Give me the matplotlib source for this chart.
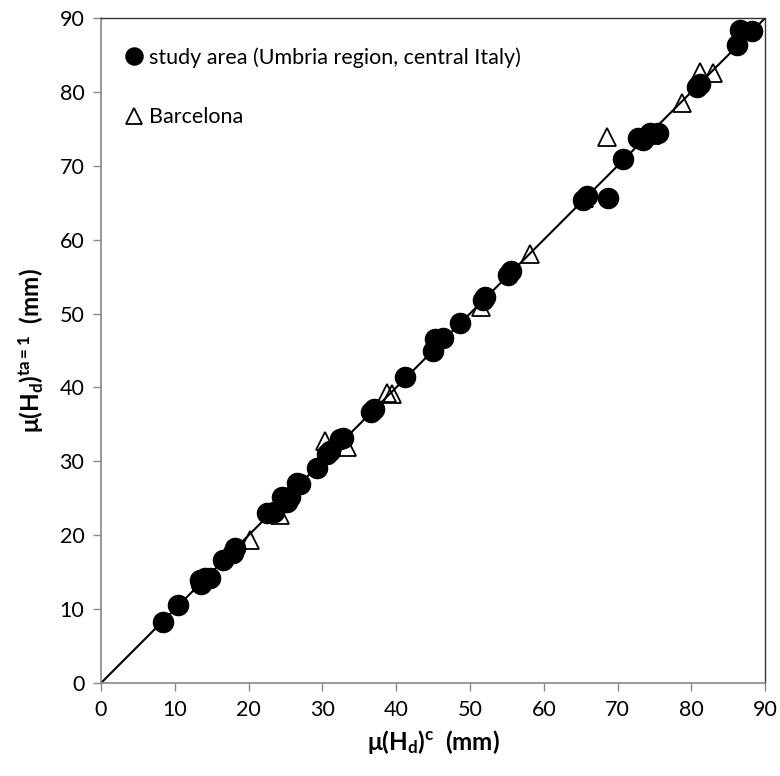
import matplotlib
matplotlib.use("Agg")
import matplotlib.pyplot as plt

plt.rcParams['font.family'] = ['Lato', 'DejaVu Sans']
plt.rcParams['mathtext.fontset'] = 'custom'
plt.rcParams['mathtext.rm'] = 'Lato'
plt.rcParams['mathtext.bf'] = 'Lato:bold'
plt.rcParams['mathtext.it'] = 'Lato:italic'

# study area (Umbria region, central Italy)
umbria_x = [8.4, 10.4, 13.4, 13.6, 14.1, 14.8, 16.5, 17.9, 18.2,
            22.5, 23.4, 24.5, 25.2, 25.6, 26.6, 27.0,
            29.3, 30.6, 31.0, 32.4, 32.8, 36.6, 37.0,
            41.2, 45.0, 45.3, 46.3, 48.7, 51.8, 52.1, 55.1, 55.5,
            65.3, 65.9, 68.7, 70.8, 72.8, 73.5, 74.4, 75.5,
            80.8, 81.1, 86.2, 86.6, 88.2]
umbria_y = [8.3, 10.5, 13.9, 13.4, 14.2, 14.2, 16.6, 17.6, 18.3,
            23.0, 23.2, 25.2, 24.5, 25.2, 27.1, 27.0,
            29.1, 31.0, 31.4, 33.0, 33.2, 36.7, 37.1,
            41.4, 45.0, 46.5, 46.7, 48.7, 51.9, 52.2, 55.2, 55.7,
            65.4, 65.9, 65.6, 70.9, 73.7, 73.5, 74.4, 74.4,
            80.7, 81.1, 86.3, 88.4, 88.2]

# Barcelona
barc_x = [20.2, 24.3, 30.4, 33.3, 38.8, 39.4, 51.5, 58.1, 65.5, 68.6, 74.5, 78.7, 81.2, 82.9]
barc_y = [19.3, 22.8, 32.8, 31.9, 39.3, 39.1, 50.9, 58.0, 65.6, 73.9, 74.2, 78.5, 82.7, 82.6]

xticks = [0, 10, 20, 30, 40, 50, 60, 70, 80, 90]
yticks = [0, 10, 20, 30, 40, 50, 60, 70, 80, 90]

fig = plt.figure(figsize=(7.8, 7.76), dpi=100)
ax = fig.add_axes([0.1295, 0.1198, 0.8515, 0.857])

ax.plot([0, 90], [0, 90], color='black', lw=1.5, zorder=1)
tri, = ax.plot(barc_x, barc_y, linestyle='none', marker='^', markersize=13,
               markerfacecolor='none', markeredgecolor='black', markeredgewidth=1.3, zorder=2)
circ, = ax.plot(umbria_x, umbria_y, linestyle='none', marker='o', markersize=14.5,
                color='black', zorder=3)

ax.set_xlim(0, 90)
ax.set_ylim(0, 90)
ax.set_xticks(xticks)
ax.set_yticks(yticks)
ax.tick_params(axis='both', direction='out', length=6, width=1, color='#888888',
               labelsize=15.5, pad=6)
for s in ['left', 'bottom']:
    ax.spines[s].set_color('#888888')
    ax.spines[s].set_linewidth(1.2)
for s in ['top', 'right']:
    ax.spines[s].set_color('#333333')
    ax.spines[s].set_linewidth(1.0)

ax.set_xlabel(r'$\mathbf{\mu(H_d)^c}$  (mm)', fontsize=17.5, fontweight='bold', labelpad=6)
ax.set_ylabel(r'$\mathbf{\mu(H_d)^{ta{=}1}}$  (mm)', fontsize=17.5, fontweight='bold', labelpad=10)

leg = ax.legend([circ, tri], ['study area (Umbria region, central Italy)', 'Barcelona'],
                loc='upper left', bbox_to_anchor=(0.014, 0.979), frameon=False,
                fontsize=15.5, handlelength=0.8, handletextpad=0.3, labelspacing=1.84,
                borderaxespad=0.3, markerscale=0.85)

fig.savefig('out.png', dpi=100)
